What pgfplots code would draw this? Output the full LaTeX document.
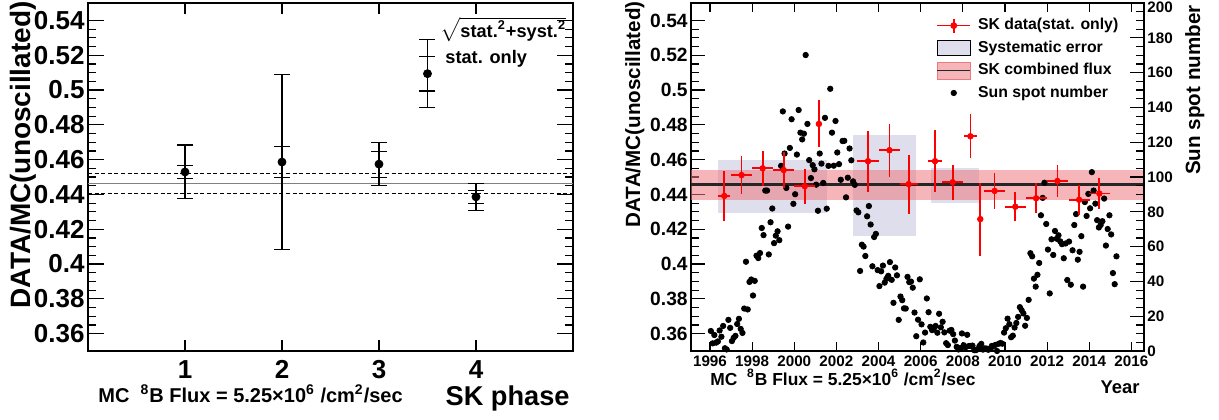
\documentclass[border=0pt]{standalone}
\usepackage{fontspec}
\setmainfont{Liberation Sans}
\usepackage{pgfplots}
\usepackage{pgfplotstable}
\pgfplotsset{compat=1.18}
\definecolor{syscol}{RGB}{222,222,236}
\definecolor{bandcol}{RGB}{238,120,128}
\definecolor{redpt}{RGB}{255,0,0}

% monthly sun spot number, one row per year
\pgfplotstableread{
yr   m1    m2    m3    m4    m5    m6    m7    m8    m9    m10   m11   m12
1996 11.5  4.4   9.2   4.8   5.5   11.8  8.2   14.4  1.6   0.9   17.9  13.3
1997 5.7   7.6   8.7   15.5  18.5  12.7  10.4  24.4  51.3  23.9  39.7  41.1
1998 31.9  40.3  54.8  53.4  56.3  70.7  66.6  92.2  92.2  55.5  74.0  81.9
1999 62.0  66.3  68.8  63.7  106.4 137.7 113.5 93.7  71.5  116.7 133.2 84.6
2000 90.1  112.9 138.5 125.5 121.6 124.9 170.1 130.5 109.7 99.4  106.8 104.4
2001 95.6  80.6  113.5 107.7 96.6  134.0 81.8  106.4 150.7 125.5 106.5 132.2
2002 114.1 107.4 98.4  120.7 120.8 88.3  99.6  116.4 109.6 97.5  95.5  80.8
2003 79.7  46.0  61.1  60.0  54.6  77.4  83.3  72.7  48.7  65.5  67.3  46.5
2004 37.3  45.8  49.1  39.3  41.5  43.2  51.1  40.9  27.7  48.0  43.5  17.9
2005 31.3  29.2  24.5  24.4  42.6  39.6  39.9  36.4  22.1  8.5   18.0  41.2
2006 15.3  4.9   10.6  30.2  22.3  13.9  12.0  12.9  14.4  10.5  21.4  13.6
2007 16.8  10.7  4.5   3.4   11.7  12.1  9.7   6.0   2.4   0.9   1.7   10.1
2008 3.3   2.1   9.3   2.9   2.9   3.1   0.5   0.5   1.1   2.9   4.1   0.8
2009 1.5   1.4   0.7   1.2   2.9   2.6   3.5   0.0   4.2   4.6   4.2   10.6
2010 13.1  18.6  15.4  7.9   8.8   13.5  16.1  19.6  25.2  23.5  21.6  14.5
2011 19.0  29.4  56.2  54.4  41.6  37.0  43.8  50.6  78.0  88.0  96.7  73.0
2012 58.3  33.1  64.2  55.2  69.0  64.5  66.5  63.0  61.4  53.3  61.8  40.8
2013 62.9  38.1  57.9  72.4  78.7  52.5  57.0  66.0  37.0  85.6  77.6  90.3
2014 82.0  102.8 92.2  84.7  75.2  71.0  72.4  74.6  87.6  60.6  70.1  78.0
2015 67.0  44.8  38.4  54.4  nan   nan   nan   nan   nan   nan   nan   nan
}\ssn

\pgfplotsset{
  rootframe/.style={
    scale only axis, anchor=south west,
    tick align=inside,
    axis line style={line width=0.9pt},
    tick style={line width=0.6pt, black},
    /pgf/number format/assume math mode=true,
    /pgf/number format/1000 sep={},
  }
}

\begin{document}
\begin{tikzpicture}

% ---------------- left panel: SK phases ----------------
\begin{axis}[rootframe,
  at={(44pt,34pt)}, width=242.5pt, height=174pt,
  xmin=0, xmax=5, ymin=0.35, ymax=0.55,
  xtick={1,2,3,4},
  ytick={0.36,0.38,0.40,0.42,0.44,0.46,0.48,0.50,0.52,0.54},
  minor y tick num=3,
  xtick pos=both, ytick pos=both,
  major tick length=7.8pt, minor tick length=4.2pt,
  xtick style={/pgfplots/major tick length=5.5pt},
  ticklabel style={font=\bfseries\fontsize{13}{14}\selectfont},
  yticklabel style={inner xsep=0pt, xshift=-1.5pt},
  xticklabel style={inner ysep=0pt, yshift=-4.5pt},
]
\addplot[gray, line width=0.8pt] coordinates {(0,0.4462) (5,0.4462)};
\addplot[black, line width=0.5pt, dash pattern=on 2pt off 1.3pt] coordinates {(0,0.4523) (5,0.4523)};
\addplot[black, line width=0.5pt, dash pattern=on 2pt off 1.3pt] coordinates {(0,0.4403) (5,0.4403)};
% stat + syst
\addplot[black, only marks, mark=none,
  error bars/.cd, y dir=both, y explicit,
  error bar style={line width=0.55pt},
  error mark options={rotate=90, mark size=4pt, line width=0.55pt}]
  coordinates {(1,0.4529) +- (0,0.0155) (2,0.4586) +- (0,0.0503)
               (3,0.4574) +- (0,0.0123) (4,0.4386) +- (0,0.0078)
               (3.5,0.5094) +- (0,0.0197)};
% stat only
\addplot[black, only marks, mark=*, mark size=1.3pt,
  error bars/.cd, y dir=both, y explicit,
  error bar style={line width=0.8pt},
  error mark options={rotate=90, mark size=4pt, line width=0.55pt}]
  coordinates {(1,0.4529) +- (0,0.0038) (2,0.4586) +- (0,0.0091)
               (3,0.4574) +- (0,0.0075) (4,0.4386) +- (0,0.0038)
               (3.5,0.5094) +- (0,0.0100)};
\end{axis}

% ---------------- right panel: time variation ----------------
\begin{axis}[rootframe,
  at={(345.5pt,34pt)}, width=226.5pt, height=174pt,
  xmin=1995.1, xmax=2016.6, ymin=0.35, ymax=0.55,
  xtick={1994,1996,...,2018}, minor x tick num=3,
  ytick={0.36,0.38,0.40,0.42,0.44,0.46,0.48,0.50,0.52,0.54},
  minor y tick num=3,
  xtick pos=both, ytick pos=left,
  major tick length=7pt, minor tick length=3.8pt,
  xtick style={/pgfplots/major tick length=4.5pt, /pgfplots/minor tick length=2.5pt},
  yticklabel style={font=\bfseries\fontsize{9.6}{11}\selectfont, inner xsep=0pt, xshift=-1.5pt},
  xticklabel style={font=\bfseries\fontsize{7.6}{9}\selectfont, inner ysep=0pt, yshift=-2pt},
]
% systematic error boxes
\addplot[draw=none, fill=syscol] coordinates {(1996.40,0.4296) (2001.56,0.4296) (2001.56,0.4595) (1996.40,0.4595)} -- cycle;
\addplot[draw=none, fill=syscol] coordinates {(2002.78,0.4163) (2005.80,0.4163) (2005.80,0.4740) (2002.78,0.4740)} -- cycle;
\addplot[draw=none, fill=syscol] coordinates {(2006.49,0.4353) (2008.75,0.4353) (2008.75,0.4550) (2006.49,0.4550)} -- cycle;
% combined flux band and value
\addplot[draw=none, fill=bandcol, fill opacity=0.55] coordinates {(1995.1,0.4369) (2016.6,0.4369) (2016.6,0.4540) (1995.1,0.4540)} -- cycle;
\addplot[black!85, line width=1.1pt] coordinates {(1995.1,0.4457) (2016.6,0.4457)};
\end{axis}

\begin{axis}[rootframe,
  at={(345.5pt,34pt)}, width=226.5pt, height=174pt,
  xmin=1995.1, xmax=2016.6, ymin=0, ymax=200,
  hide x axis, axis y line*=right,
  ytick={0,20,...,200}, minor y tick num=3,
  major tick length=7pt, minor tick length=3.8pt,
  yticklabel={\ifnum\ticknum=10\relax\raisebox{-4.6pt}[0pt][0pt]{\pgfmathprintnumber{\tick}}\else\pgfmathprintnumber{\tick}\fi},
  yticklabel style={font=\bfseries\fontsize{7.6}{9}\selectfont, inner xsep=0pt, xshift=1.5pt},
]
\pgfplotsinvokeforeach{1,...,12}{
  \addplot[only marks, mark=*, mark size=1.35pt, black]
    table[x expr=\thisrow{yr}+(#1-0.5)/12, y=m#1] {\ssn};
}
\end{axis}

\begin{axis}[
  at={(345.5pt,34pt)}, anchor=south west, scale only axis,
  width=226.5pt, height=174pt,
  xmin=1995.1, xmax=2016.6, ymin=0.35, ymax=0.55,
  hide axis,
  legend cell align=left,
  legend style={at={(rel axis cs:0.5475,1)}, anchor=north west, xshift=-1.5pt, yshift=-5.5pt,
    draw=none, fill=none, inner sep=0pt, row sep=0pt,
    nodes={inner xsep=0pt},
    font=\bfseries\fontsize{7.9}{9}\selectfont,
    /tikz/every odd column/.append style={column sep=3.5pt}},
]
\addplot[redpt, only marks, mark=*, mark size=1.4pt,
  legend image code/.code={
    \draw[redpt, line width=0.85pt] (0pt,0pt) -- (16.5pt,0pt);
    \draw[redpt, line width=0.85pt] (8.25pt,-3.5pt) -- (8.25pt,3.5pt);
    \fill[redpt] (8.25pt,0pt) circle (1.5pt);},
  error bars/.cd, x dir=both, x explicit, y dir=both, y explicit,
  error mark=none, error bar style={redpt, line width=0.85pt}]
  coordinates {
  (1996.68,0.4391) +- (0.28,0.0143)
  (1997.50,0.4511) +- (0.50,0.0110)
  (1998.50,0.4550) +- (0.50,0.0100)
  (1999.50,0.4540) +- (0.50,0.0102)
  (2000.50,0.4447) +- (0.50,0.0100)
  (2001.17,0.4805) +- (0.15,0.0135)
  (2003.50,0.4591) +- (0.50,0.0176)
  (2004.52,0.4654) +- (0.50,0.0152)
  (2005.43,0.4459) +- (0.43,0.0170)
  (2006.68,0.4591) +- (0.33,0.0180)
  (2007.52,0.4470) +- (0.50,0.0100)
  (2008.36,0.4734) +- (0.32,0.0126)
  (2008.83,0.4258) +- (0.13,0.0210)
  (2009.51,0.4420) +- (0.49,0.0105)
  (2010.49,0.4329) +- (0.50,0.0083)
  (2011.48,0.4378) +- (0.50,0.0086)
  (2012.49,0.4477) +- (0.50,0.0093)
  (2013.52,0.4369) +- (0.50,0.0085)
  (2014.48,0.4405) +- (0.50,0.0090)
  };
\addlegendentry{SK data(stat. only)}
\addlegendimage{legend image code/.code={
  \draw[black, line width=0.4pt, fill=syscol] (0pt,-3.75pt) rectangle (16.5pt,3.75pt);}}
\addlegendentry{Systematic error}
\addlegendimage{legend image code/.code={
  \fill[bandcol, fill opacity=0.55] (0pt,-4.25pt) rectangle (16.5pt,4.25pt);
  \draw[black!85, line width=0.8pt] (0pt,0pt) -- (16.5pt,0pt);}}
\addlegendentry{SK combined flux}
\addlegendimage{legend image code/.code={
  \fill[black] (8.25pt,0pt) circle (1.35pt);}}
\addlegendentry{Sun spot number}
\end{axis}

% titles and labels
\begin{scope}[every node/.style={inner sep=0pt}]
\node[rotate=90, anchor=base east, font=\bfseries\fontsize{14}{16}\selectfont] at (15pt,209pt) {DATA/MC(unoscillated)};
\node[anchor=base east, font=\bfseries\fontsize{13.6}{15}\selectfont] at (285pt,7pt) {SK phase};
\node[anchor=base west, font=\bfseries\fontsize{10}{11}\selectfont] at (49pt,8.5pt) {MC\ \ \textsuperscript{8}B Flux = 5.25×10\textsuperscript{6} /cm\textsuperscript{2}/sec};
\node[anchor=base west, font=\bfseries\fontsize{9.1}{10}\selectfont] at (220pt,191pt) {$\sqrt{\mbox{stat.\textsuperscript{2}+syst.\textsuperscript{2}}}$};
\node[anchor=base west, font=\bfseries\fontsize{9.1}{10}\selectfont] at (222.5pt,178pt) {stat. only};

\node[rotate=90, anchor=base east, font=\bfseries\fontsize{10.3}{12}\selectfont] at (320pt,209pt) {DATA/MC(unoscillated)};
\node[rotate=90, anchor=base east, font=\bfseries\fontsize{10.3}{12}\selectfont] at (600pt,207pt) {Sun spot number};
\node[anchor=base east, font=\bfseries\fontsize{9.2}{11}\selectfont] at (570pt,13pt) {Year};
\node[anchor=base west, font=\bfseries\fontsize{8.7}{10}\selectfont] at (355pt,17pt) {MC\ \ \textsuperscript{8}B Flux = 5.25×10\textsuperscript{6} /cm\textsuperscript{2}/sec};
\end{scope}

\pgfresetboundingbox
\path (0pt,0pt) rectangle (609.5pt,209.5pt);
\end{tikzpicture}
\end{document}
